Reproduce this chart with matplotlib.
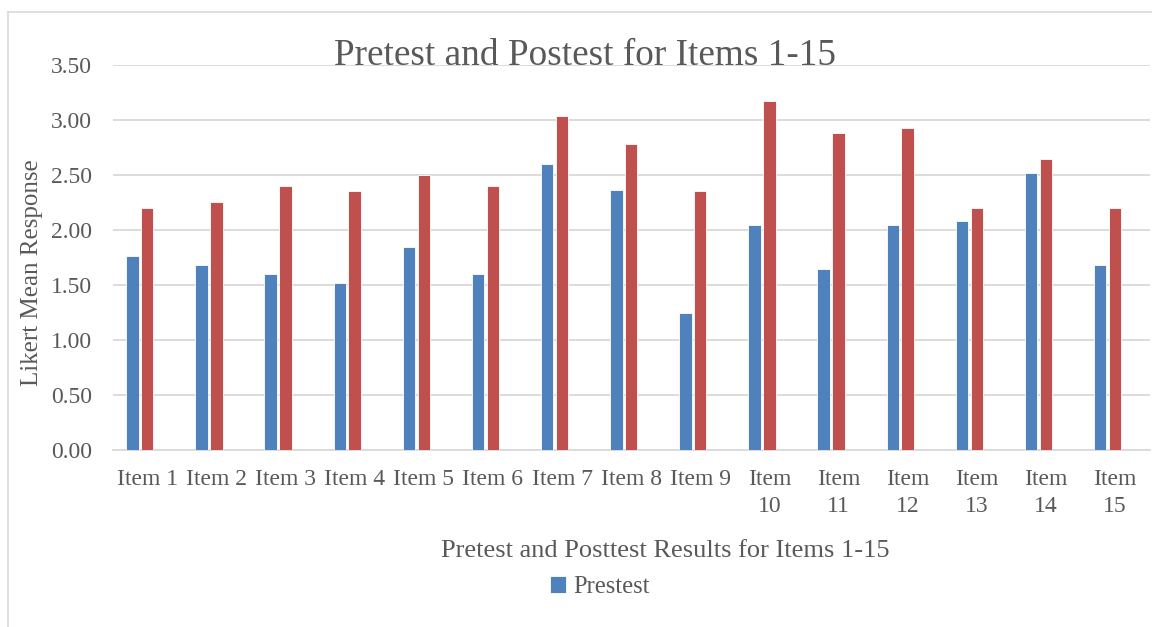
import matplotlib
matplotlib.use("Agg")
import matplotlib.pyplot as plt
import numpy as np
from matplotlib.lines import Line2D

categories = ["Item 1", "Item 2", "Item 3", "Item 4", "Item 5", "Item 6", "Item 7",
              "Item 8", "Item 9", "Item\n10", "Item\n11", "Item\n12", "Item\n13",
              "Item\n14", "Item\n15"]
pretest = [1.76, 1.68, 1.60, 1.52, 1.84, 1.60, 2.60, 2.36, 1.24, 2.04, 1.64, 2.04, 2.08, 2.52, 1.68]
posttest = [2.20, 2.25, 2.40, 2.35, 2.50, 2.40, 3.04, 2.78, 2.35, 3.17, 2.88, 2.93, 2.20, 2.64, 2.20]
yticks = [0.0, 0.5, 1.0, 1.5, 2.0, 2.5, 3.0, 3.5]

plt.rcParams['font.family'] = ['Liberation Serif', 'DejaVu Serif']
TXT = '#595959'
GRID = '#d9d9d9'

W, H = 1152, 627
fig = plt.figure(figsize=(W / 100, H / 100), dpi=100)
ax = fig.add_axes([112.7 / W, 1 - 449.5 / H, (1149.6 - 112.7) / W, (449.5 - 65) / H])

x = np.arange(len(categories))
bw = 0.18
b1 = ax.bar(x - 0.215, pretest, width=bw, color='#4F81BD', edgecolor='white', linewidth=0.6, zorder=3)
b2 = ax.bar(x, posttest, width=bw, color='#C0504D', edgecolor='white', linewidth=0.6, zorder=3)

ax.set_xlim(-0.5, len(categories) - 0.5)
ax.set_ylim(0, 3.5)
ax.set_yticks(yticks)
ax.set_yticklabels([f"{v:.2f}" for v in yticks])
ax.set_xticks(x)
ax.set_xticklabels(categories, linespacing=1.4)
ax.tick_params(axis='both', length=0, labelsize=17, colors=TXT)
ax.tick_params(axis='x', pad=14)
ax.tick_params(axis='y', pad=15)
ax.yaxis.grid(True, color=GRID, linewidth=1.3, zorder=0)
ax.set_axisbelow(True)
for s in ['top', 'right', 'left']:
    ax.spines[s].set_visible(False)
ax.spines['bottom'].set_color(GRID)
ax.spines['bottom'].set_linewidth(1.3)

fig.text(585 / W, 1 - 56 / H, "Pretest and Postest for Items 1-15", ha='center', va='center',
         fontsize=26.8, color=TXT)
fig.text(665 / W, 1 - 551 / H, "Pretest and Posttest Results for Items 1-15", ha='center', va='center',
         fontsize=19, color=TXT)
fig.text(32 / W, 1 - 273 / H, "Likert Mean Response", ha='center', va='center', rotation=90,
         fontsize=18, color=TXT)

leg = fig.legend([b1], ["Prestest"], loc='center', bbox_to_anchor=(600 / W, 1 - 587 / H),
                 frameon=False, fontsize=17.7, handlelength=0.65, handleheight=0.65,
                 handletextpad=0.3, labelcolor=TXT)

# outer chart border
fig.add_artist(Line2D([8.3 / W, 8.3 / W], [0, 1 - 12 / H], transform=fig.transFigure, color=GRID, linewidth=1.2))
fig.add_artist(Line2D([8.3 / W, 1], [1 - 12 / H, 1 - 12 / H], transform=fig.transFigure, color=GRID, linewidth=1.2))

fig.savefig("out.png", dpi=100)
